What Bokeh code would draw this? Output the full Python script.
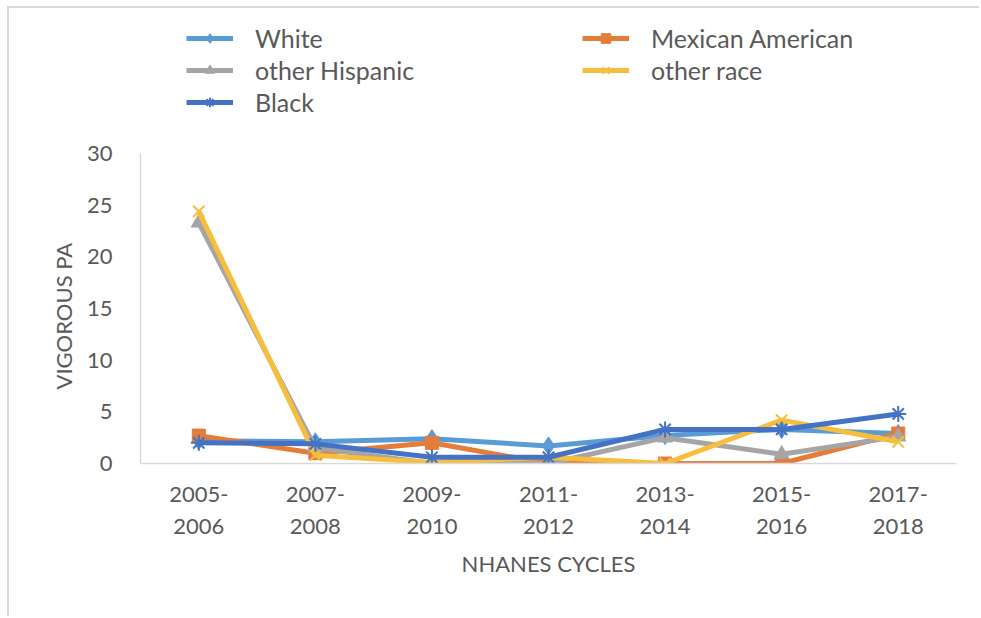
from bokeh.plotting import figure
from bokeh.models import FactorRange, Range1d, Legend, LegendItem, FixedTicker, Title
from bokeh.embed import file_html
from bokeh.resources import INLINE

# NHANES survey cycles and vigorous physical activity by group
cycles = ["2005-\n2006", "2007-\n2008", "2009-\n2010", "2011-\n2012",
          "2013-\n2014", "2015-\n2016", "2017-\n2018"]
white = [2.2, 2.1, 2.4, 1.7, 2.7, 3.3, 2.9]
mexican_american = [2.7, 1.0, 2.0, 0.0, 0.0, 0.0, 2.9]
other_hispanic = [23.3, 1.5, 0.0, 0.0, 2.5, 0.9, 2.6]
other_race = [24.4, 0.8, 0.1, 0.6, 0.0, 4.2, 2.1]
black = [2.0, 1.9, 0.6, 0.6, 3.3, 3.3, 4.8]
y_ticks = [0, 5, 10, 15, 20, 25, 30]

FONT = "Lato"
TEXT = "#595959"

# chart box sits inset from the page corner with a light frame on two sides
BOX_X, BOX_Y, BORDER = 7, 6, 2
ORIGIN_X, ORIGIN_Y = BOX_X + BORDER, BOX_Y + BORDER

# the frame reaches up to hold the legend; the value axis itself stops at 30
FRAME_TOP, AXIS_TOP, AXIS_BOTTOM, FRAME_LEFT = 10, 153, 463, 140
y_max = 30 * (AXIS_BOTTOM - FRAME_TOP) / (AXIS_BOTTOM - AXIS_TOP)

p = figure(
    width=981 - ORIGIN_X, height=618 - ORIGIN_Y,
    x_range=FactorRange(factors=cycles, range_padding=0),
    y_range=Range1d(0, y_max),
    output_backend="svg", toolbar_location=None,
    min_border_left=FRAME_LEFT - ORIGIN_X, min_border_right=25,
    min_border_top=FRAME_TOP - ORIGIN_Y, min_border_bottom=618 - AXIS_BOTTOM,
    background_fill_color="white", border_fill_color="white",
)
p.margin = (BOX_Y, 0, 0, BOX_X)
p.styles = {"border-left": f"{BORDER}px solid #d9d9d9",
            "border-top": f"{BORDER}px solid #d9d9d9"}
p.outline_line_color = None
p.xgrid.grid_line_color = None
p.ygrid.grid_line_color = None

for ax in (p.xaxis[0], p.yaxis[0]):
    ax.axis_line_color = "#d9d9d9"
    ax.axis_line_width = 1.5
    ax.major_tick_line_color = None
    ax.minor_tick_line_color = None
    ax.major_label_text_font = FONT
    ax.major_label_text_color = TEXT
    ax.major_label_text_font_size = "22px"
    ax.axis_label_text_font = FONT
    ax.axis_label_text_color = TEXT
    ax.axis_label_text_font_size = "22px"
    ax.axis_label_text_font_style = "normal"

p.yaxis.ticker = FixedTicker(ticks=y_ticks)
p.yaxis.bounds = (0, 30)
p.yaxis.major_label_standoff = 22
p.xaxis.major_label_standoff = 10
p.xaxis.axis_label = "NHANES CYCLES"
p.xaxis.axis_label_standoff = 8

# value-axis title, centred on the 0-30 span rather than the whole frame
y_title = Title(
    text="VIGOROUS PA", align="left", offset=74, standoff=14,
    text_font=FONT, text_color=TEXT, text_font_size="22px",
    text_font_style="normal",
)
p.add_layout(y_title, "left")

series = [
    ("White", white, "#5B9BD5", "diamond", 18),
    ("Mexican American", mexican_american, "#E47C3A", "square", 13),
    ("other Hispanic", other_hispanic, "#A5A5A5", "triangle", 15),
    ("other race", other_race, "#F6BE3C", "x", 16),
    ("Black", black, "#4472C4", "asterisk", 16),
]

items = {}
for name, vals, color, marker, size in series:
    ln = p.line(cycles, vals, line_color=color, line_width=5)
    if marker in ("x", "asterisk"):
        mk = p.scatter(cycles, vals, marker=marker, size=size,
                       line_color=color, line_width=2)
    else:
        mk = p.scatter(cycles, vals, marker=marker, size=size,
                       fill_color=color, line_color=color)
    items[name] = LegendItem(label=name, renderers=[ln, mk])

# legend columns fill top to bottom
legend_order = ["White", "other Hispanic", "Black", "Mexican American", "other race"]
legend = Legend(
    items=[items[n] for n in legend_order], ncols=2, location=(46, 346),
    label_text_font=FONT, label_text_color=TEXT, label_text_font_size="25px",
    glyph_width=47, glyph_height=24, label_height=24, label_width=325,
    label_standoff=22, spacing=2, padding=6, margin=0,
    border_line_color=None, background_fill_alpha=0,
)
p.add_layout(legend, "center")

open("out.html", "w").write(file_html(p, INLINE))
